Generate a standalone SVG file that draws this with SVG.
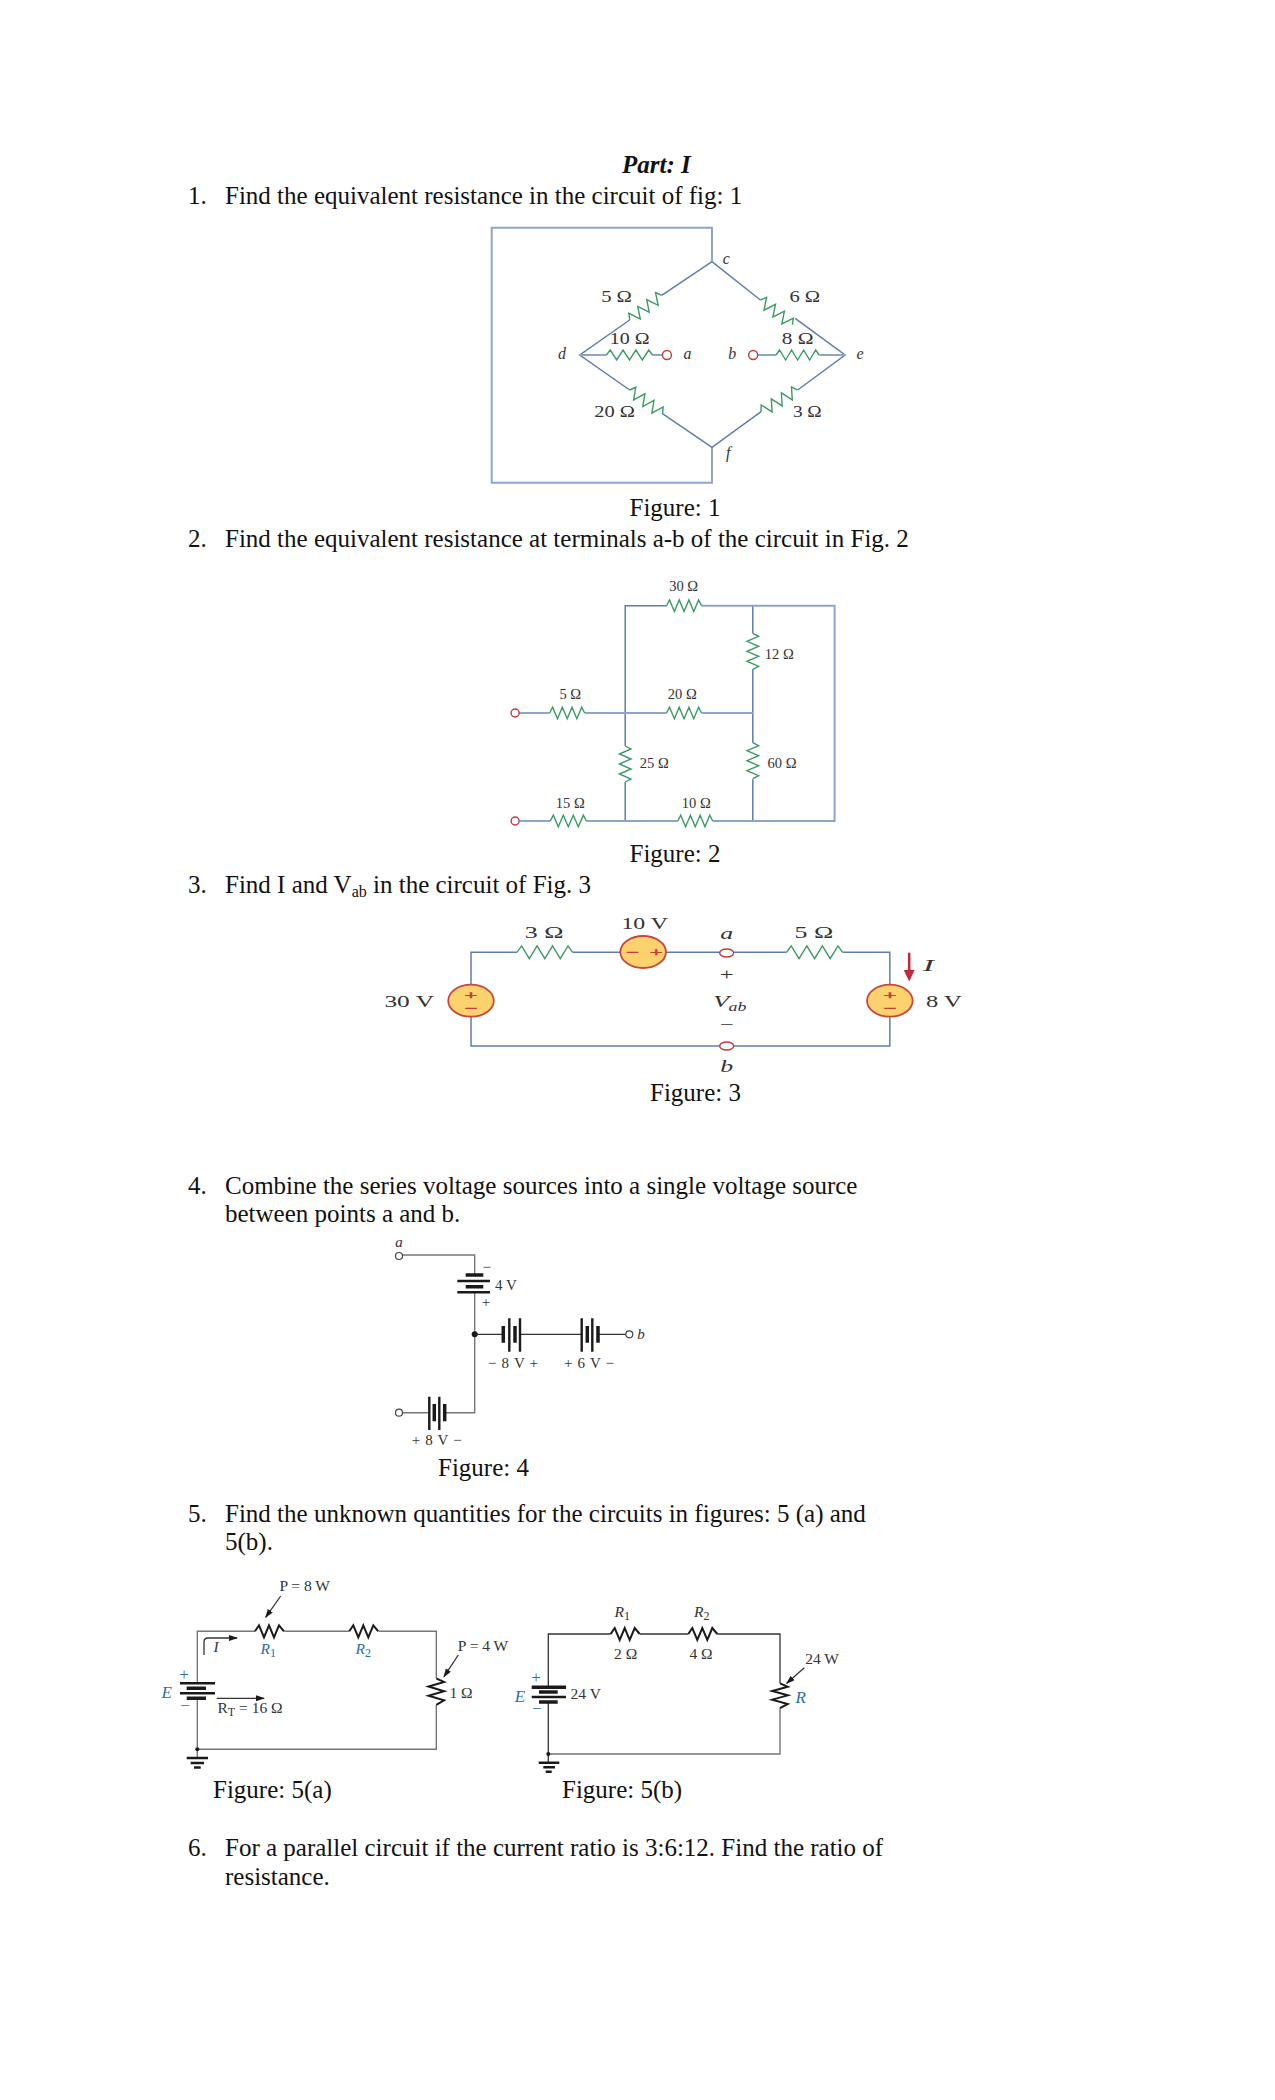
<svg xmlns="http://www.w3.org/2000/svg" width="1275" height="2100" viewBox="0 0 1275 2100">
<style>
text{font-family:"Liberation Serif","Times New Roman",serif;fill:#111}
.t{font-size:25px}
.p{font-size:25px;font-weight:bold;font-style:italic}
.f1{font-size:16px;fill:#333;text-anchor:middle}
.f2{font-size:14.5px;fill:#333;text-anchor:middle}
.f3{font-size:17px;fill:#333;text-anchor:middle}
.f4{font-size:15px;fill:#333;text-anchor:middle}
.f5{font-size:15.5px;fill:#333;text-anchor:middle}
.i{font-style:italic}
.s{fill:#c23a3a;stroke:#c23a3a;stroke-width:.4;font-size:11px;text-anchor:middle;font-family:"Liberation Sans",sans-serif}
.b{fill:#2a6ea6}
.big{font-size:17px}
.sm{font-size:12px}
.w{fill:none;stroke:#5d7dab;stroke-width:1.5}
.wl{fill:none;stroke:#8fa5c7;stroke-width:2}
.wk{fill:none;stroke:#333;stroke-width:1.3}
.wg{fill:none;stroke:#777;stroke-width:1.4}
.pl{stroke:#1a1a1a;fill:none;stroke-width:3.5}
.pt{stroke:#1a1a1a;fill:none;stroke-width:2.4}
.rg{fill:none;stroke:#3c9a62;stroke-width:1.4;vector-effect:non-scaling-stroke}
.rk{fill:none;stroke:#1a1a1a;stroke-width:2;vector-effect:non-scaling-stroke}
.t0{fill:#fff;stroke:#c23a3a;stroke-width:1.4}
.t1{fill:#fff;stroke:#444;stroke-width:1.2}
.src{fill:#fbd26e;stroke:#c8463c;stroke-width:1.8}
</style>
<defs>
<path id="rg" class="rg" d="M0 0l3-4 5 8 5-8 5 8 5-8 5 8 5-8 3 4"/>
<path id="rk" class="rk" d="M0 0l4-6 5 12 5-12 5 12 5-12 5 6"/>
<marker id="ah" markerWidth="9" markerHeight="7" refX="8" refY="3" orient="auto" markerUnits="userSpaceOnUse"><path d="M0 0L9 3L0 6z" fill="#1a1a1a"/></marker>
</defs>

<g id="page-text">
<text class="p" x="622" y="173">Part: I</text>
<text class="t" x="188" y="204">1.</text><text class="t" x="225" y="204">Find the equivalent resistance in the circuit of fig: 1</text>
<text class="t" x="629.5" y="516">Figure: 1</text>
<text class="t" x="188" y="547">2.</text><text class="t" x="225" y="547">Find the equivalent resistance at terminals a-b of the circuit in Fig. 2</text>
<text class="t" x="629.5" y="862">Figure: 2</text>
<text class="t" x="188" y="893">3.</text><text class="t" x="225" y="893">Find I and V<tspan font-size="16" dy="4">ab</tspan><tspan dy="-4"> in the circuit of Fig. 3</tspan></text>
<text class="t" x="650" y="1101">Figure: 3</text>
<text class="t" x="188" y="1194">4.</text><text class="t" x="225" y="1194">Combine the series voltage sources into a single voltage source</text>
<text class="t" x="225" y="1222">between points a and b.</text>
<text class="t" x="438" y="1476">Figure: 4</text>
<text class="t" x="188" y="1522">5.</text><text class="t" x="225" y="1522">Find the unknown quantities for the circuits in figures: 5 (a) and</text>
<text class="t" x="225" y="1550">5(b).</text>
<text class="t" x="213" y="1798">Figure: 5(a)</text>
<text class="t" x="562" y="1798">Figure: 5(b)</text>
<text class="t" x="188" y="1856">6.</text><text class="t" x="225" y="1856">For a parallel circuit if the current ratio is 3:6:12. Find the ratio of</text>
<text class="t" x="225" y="1885">resistance.</text>
</g>

<g id="connectors">
<g id="wires-1" transform="translate(1.66 0) scale(.994 1)">
<path class="wl" d="M714.6 261.7V227.7H493V482.7H714.6V447.3"/>
<path class="w" d="M714.6 261.7L664.4 295M631.8 320L581.6 355L631.8 390M664.4 413.3L714.6 447.3L764 411.7M800.8 390L848.5 355L798.3 318.3M763.3 300L714.6 261.7"/>
<path class="wl" d="M581.6 355H608.4M654.7 355H665M760 355H779M822.7 355H848.5"/>
</g>
<g id="wires-2" transform="translate(-2.7 0)">
<path class="w" d="M627.9 746V605.7H669.3M755.5 633.3V605.7M755.5 669.3V742.7M755.5 779.3V821M627.9 782V821"/>
<path class="wl" d="M704.3 605.7H837.3V821H715.5M522 713H552.4M587.4 713H669.3M704.3 713H755.5M522 821H553M589 821H680.5"/>
</g>
<g id="wires-3" transform="translate(2.49 0) scale(.992 1)">
<path class="w" d="M472.3 985V952.3H518.6M574.8 952.3H623M669 952.3H723M737 952.3H790.4M847 952.3H894.5V985M472.3 1016.5V1046H723M737 1046H894.5V1016.5"/>
<path d="M914 952.7V972" stroke="#c0283c" stroke-width="2.5" fill="none"/>
<path d="M908.5 970H919.5L914 981.5z" fill="#c0283c"/>
</g>
<g id="wires-4">
<path class="wg" d="M402.5 1255H474.7V1275M474.7 1292.3V1412.7H444.7M429.3 1412.7H402.5"/>
<path class="wk" d="M474.7 1334.3H503.3M520 1334.3H581.7M598 1334.3H625.8"/>
</g>
<g id="wires-5a">
<path class="wg" d="M197.3 1683.3V1631.3H255M284.3 1631.3H349.3M379 1631.3H436.3V1678.3M436.3 1705V1749.3H197.3V1698.3M197.3 1749.3V1758"/>
<path class="wk" d="M204 1655V1642Q204 1638 208 1638H237" marker-end="url(#ah)"/>
<path class="wk" d="M216.7 1698.3H264" marker-end="url(#ah)"/>
<path class="wk" d="M280.7 1596L265.7 1617.3" marker-end="url(#ah)"/>
<path class="wk" d="M458.3 1655L444 1676.7" marker-end="url(#ah)"/>
</g>
<g id="wires-5b">
<path class="wk" d="M548.3 1687.3V1634H610.7M640 1634H688.3M717.3 1634H780V1683.3"/>
<path class="wg" d="M780 1708.3V1754H548.3"/>
<path class="wk" d="M548.3 1702V1762.7"/>
<path class="wk" d="M804.3 1667.7L786.7 1683.3" marker-end="url(#ah)"/>
</g>
</g>

<g id="figure-1" transform="translate(1.66 0) scale(.994 1)">
<use href="#rg" transform="translate(631.8 320) rotate(-37.5) scale(1.13 1.45)"/>
<use href="#rg" transform="translate(763.3 300) rotate(37.5) scale(1.13 1.45)"/>
<use href="#rg" transform="translate(631.8 390) rotate(35.6) scale(1.13 1.45)"/>
<use href="#rg" transform="translate(764 411.7) rotate(-30.5) scale(1.18 1.45)"/>
<use href="#rg" transform="translate(608.4 355) scale(1.29 1.25)"/>
<use href="#rg" transform="translate(779 355) scale(1.21 1.25)"/>
<circle class="t0" cx="669.3" cy="355" r="4.5"/><circle class="t0" cx="756" cy="355" r="4.5"/>
<text class="f1" x="618.6" y="301.7" textLength="31" lengthAdjust="spacingAndGlyphs">5 Ω</text>
<text class="f1" x="631.8" y="344.3" textLength="40" lengthAdjust="spacingAndGlyphs">10 Ω</text>
<text class="f1" x="808" y="301.7" textLength="31" lengthAdjust="spacingAndGlyphs">6 Ω</text>
<text class="f1" x="800.8" y="344.3" textLength="32" lengthAdjust="spacingAndGlyphs">8 Ω</text>
<text class="f1" x="616.7" y="416.7" textLength="41" lengthAdjust="spacingAndGlyphs">20 Ω</text>
<text class="f1" x="810.5" y="416.7" textLength="29" lengthAdjust="spacingAndGlyphs">3 Ω</text>
<text class="f1 i" x="729" y="264">c</text><text class="f1 i" x="563.6" y="359">d</text><text class="f1 i" x="690" y="359">a</text>
<text class="f1 i" x="735" y="359">b</text><text class="f1 i" x="863.6" y="359">e</text><text class="f1 i" x="731" y="458">f</text>
</g>

<g id="figure-2" transform="translate(-2.7 0)">
<use href="#rg" transform="translate(669.3 605.7) scale(.97 1.45)"/>
<use href="#rg" transform="translate(755.5 633.3) rotate(90) scale(1 1.45)"/>
<use href="#rg" transform="translate(552.4 713) scale(.97 1.45)"/>
<use href="#rg" transform="translate(669.3 713) scale(.97 1.45)"/>
<use href="#rg" transform="translate(627.9 746) rotate(90) scale(1 1.45)"/>
<use href="#rg" transform="translate(755.5 742.7) rotate(90) scale(1 1.45)"/>
<use href="#rg" transform="translate(553 821) scale(1 1.45)"/>
<use href="#rg" transform="translate(680.5 821) scale(.97 1.45)"/>
<circle class="t0" cx="517.8" cy="713" r="4"/><circle class="t0" cx="517.8" cy="821" r="4"/>
<text class="f2" x="686.3" y="591">30 Ω</text><text class="f2" x="782" y="659">12 Ω</text>
<text class="f2" x="573" y="699">5 Ω</text><text class="f2" x="685" y="699">20 Ω</text>
<text class="f2" x="657" y="768">25 Ω</text><text class="f2" x="784.7" y="768">60 Ω</text>
<text class="f2" x="573" y="808">15 Ω</text><text class="f2" x="699" y="808">10 Ω</text>
</g>

<g id="figure-3" transform="translate(2.49 0) scale(.992 1)">
<use href="#rg" transform="translate(518.6 952.3) scale(1.56 1.6)"/>
<use href="#rg" transform="translate(790.4 952.3) scale(1.57 1.6)"/>
<ellipse class="src" cx="472.3" cy="1000.7" rx="23" ry="16"/>
<ellipse class="src" cx="645.8" cy="952" rx="23" ry="16"/>
<ellipse class="src" cx="894.5" cy="1000.7" rx="23" ry="16"/>
<text class="s" x="472.3" y="998.7" textLength="13" lengthAdjust="spacingAndGlyphs">+</text><text class="s" x="472.3" y="1012" textLength="13" lengthAdjust="spacingAndGlyphs">−</text>
<text class="s" x="635" y="956" textLength="13" lengthAdjust="spacingAndGlyphs">−</text><text class="s" x="659" y="956" textLength="13" lengthAdjust="spacingAndGlyphs">+</text>
<text class="s" x="894.5" y="998.7" textLength="13" lengthAdjust="spacingAndGlyphs">+</text><text class="s" x="894.5" y="1012" textLength="13" lengthAdjust="spacingAndGlyphs">−</text>
<ellipse class="t0" cx="730" cy="953" rx="7" ry="4"/><ellipse class="t0" cx="730" cy="1046" rx="7" ry="4"/>
<text class="f3" x="546" y="938.3" textLength="39" lengthAdjust="spacingAndGlyphs">3 Ω</text>
<text class="f3" x="647.4" y="929" textLength="47" lengthAdjust="spacingAndGlyphs">10 V</text>
<text class="f3" x="818" y="938.3" textLength="39" lengthAdjust="spacingAndGlyphs">5 Ω</text>
<text class="f3" x="410" y="1006.7" textLength="50" lengthAdjust="spacingAndGlyphs">30 V</text>
<text class="f3" x="949" y="1006.7" textLength="36" lengthAdjust="spacingAndGlyphs">8 V</text>
<text class="f3 i" x="730" y="939" textLength="13" lengthAdjust="spacingAndGlyphs">a</text>
<text class="f3 i" x="730" y="1071.7" textLength="13" lengthAdjust="spacingAndGlyphs">b</text>
<text class="f3 i" x="933.4" y="970.7" textLength="11" lengthAdjust="spacingAndGlyphs">I</text>
<text class="f3" x="730" y="980" textLength="14" lengthAdjust="spacingAndGlyphs">+</text>
<text class="f3" x="730" y="1030" textLength="14" lengthAdjust="spacingAndGlyphs">−</text>
<text class="f3 i" x="724.5" y="1006.7" textLength="16" lengthAdjust="spacingAndGlyphs">V</text>
<text class="f3 i" x="741" y="1011" textLength="18" lengthAdjust="spacingAndGlyphs" style="font-size:13px">ab</text>
</g>

<g id="figure-4">
<circle class="t1" cx="399" cy="1256" r="3.5"/><circle class="t1" cx="399" cy="1412.7" r="3.5"/><circle class="t1" cx="629.3" cy="1334.3" r="3.5"/>
<circle cx="474.7" cy="1334.3" r="3" fill="#1a1a1a"/>
<path class="pl" d="M465.7 1275H483.3M465.7 1286.7H483.3M503.3 1326V1342.7M515 1326V1342.7M587.3 1326V1342.7M598 1326V1342.7M434.3 1404V1421.3M444.7 1404V1421.3"/>
<path class="pt" d="M457.3 1281H490M457.3 1292.3H490M509.3 1318.3V1351.7M520 1318.3V1351.7M581.7 1318.3V1351.7M592.3 1318.3V1351.7M429.3 1396.7V1430M439.3 1396.7V1430"/>
<text class="f4 i" x="399" y="1247">a</text><text class="f4" x="486.7" y="1272">−</text><text class="f4" x="506" y="1290">4 V</text><text class="f4" x="486" y="1307">+</text>
<text class="f4" x="513" y="1368" textLength="50">− 8 V +</text><text class="f4" x="589" y="1368" textLength="50">+ 6 V −</text><text class="f4" x="436.7" y="1445" textLength="50">+ 8 V −</text>
<text class="f4 i" x="641" y="1339">b</text>
</g>

<g id="figure-5a">
<use href="#rk" transform="translate(255 1631.3)"/>
<use href="#rk" transform="translate(349.3 1631.3)"/>
<use href="#rk" transform="translate(436.3 1678.3) rotate(90) scale(.92 1.3)"/>
<path class="pt" d="M180 1683.3H215M180 1693.3H215"/><path class="pl" d="M186.7 1688.3H206M186.7 1698.3H206"/>
<circle cx="197.3" cy="1749.3" r="2" fill="#1a1a1a"/>
<path class="pt" d="M186.7 1758H208M190.7 1763H204M194 1767.5H200.7"/>
<text class="f5" x="304.7" y="1590.5">P = 8 W</text>
<text class="f5 i b" x="268.3" y="1654">R<tspan class="sm" dy="3" font-style="normal">1</tspan></text>
<text class="f5 i b" x="363.3" y="1654">R<tspan class="sm" dy="3" font-style="normal">2</tspan></text>
<text class="f5" x="483" y="1651">P = 4 W</text><text class="f5" x="461" y="1698">1 Ω</text>
<text class="f5 i b big" x="166.7" y="1698">E</text><text class="f5 b big" x="184" y="1680">+</text><text class="f5 b big" x="185" y="1711">−</text>
<text class="f5 i" x="216" y="1652">I</text><text class="f5" x="250" y="1713">R<tspan class="sm" dy="3">T</tspan><tspan dy="-3"> = 16 Ω</tspan></text>
</g>

<g id="figure-5b">
<use href="#rk" transform="translate(610.7 1634)"/>
<use href="#rk" transform="translate(688.3 1634)"/>
<use href="#rk" transform="translate(780 1683.3) rotate(90) scale(.86 1.3)"/>
<path class="pl" d="M531.7 1687.3H566M539 1692H557.7M539 1702H557.7"/><path class="pt" d="M531.7 1697H566"/>
<circle cx="548.3" cy="1754" r="2" fill="#1a1a1a"/>
<path class="pt" d="M538.7 1762.7H559.3M543.3 1767.3H555M545.7 1771.7H551.7"/>
<text class="f5 i" x="622.3" y="1617">R<tspan class="sm" dy="3" font-style="normal">1</tspan></text>
<text class="f5 i" x="701.7" y="1617">R<tspan class="sm" dy="3" font-style="normal">2</tspan></text>
<text class="f5" x="625.7" y="1658.5">2 Ω</text><text class="f5" x="701" y="1658.5">4 Ω</text>
<text class="f5" x="822" y="1664">24 W</text><text class="f5 i b big" x="800.7" y="1702.5">R</text>
<text class="f5" x="585.7" y="1698.5">24 V</text><text class="f5 i b big" x="520" y="1702">E</text>
<text class="f5 b big" x="536" y="1683">+</text><text class="f5 b big" x="536.7" y="1714">−</text>
</g>
</svg>
